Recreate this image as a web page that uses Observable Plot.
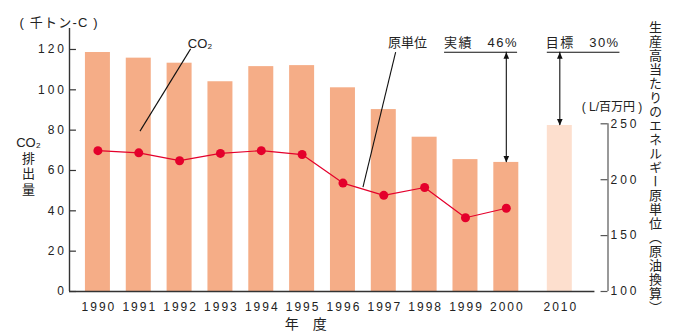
<!DOCTYPE html>
<html>
<head>
<meta charset="utf-8">
<script src="https://cdn.jsdelivr.net/npm/d3@7"></script>
<script src="https://cdn.jsdelivr.net/npm/@observablehq/plot@0.6"></script>
<style>
  html, body { margin: 0; padding: 0; background: #fff; }
  #chart svg { display: block; }
</style>
</head>
<body>
<div id="chart"></div>
<script>
// CO2 emissions (thousand t-C) by fiscal year, with the 2010 target
const years = [1990, 1991, 1992, 1993, 1994, 1995, 1996, 1997, 1998, 1999, 2000, 2010];
const co2 = [118.5, 115.7, 113.2, 104.0, 111.5, 112.0, 101.0, 90.2, 76.5, 65.4, 64.0, 82.3];

// Energy intensity per production (L crude-oil equivalent / million yen)
const unitYears = [1990, 1991, 1992, 1993, 1994, 1995, 1996, 1997, 1998, 1999, 2000];
const unitValues = [226, 224, 217, 223.5, 226, 222.5, 197, 186, 193, 166, 174.5];

// Axis ticks
const leftTicks = [0, 20, 40, 60, 80, 100, 120];
const rightTicks = [100, 150, 200, 250];

// Annotation labels
const co2Label = "CO₂";
const unitLabel = "原単位";
const actualLabel = "実績　46%";
const targetLabel = "目標　30%";
const leftTitle = "( 千トン-C )";
const leftName = "CO₂\n排\n出\n量";
const rightUnit = "( L/百万円 )";
const rightName = "生産高当たりのエネルギー原単位（原油換算）";
const xName = "年　度";

// Layout helpers: 2010 sits after a wider gap than the yearly bars
const slotOf = y => (y <= 2000 ? y - 1990 : 11.31);
const xMin = -0.696, xMax = 12.49, yMax = 130.4;
const baseEnd = 12.17;
const half = 0.306;         // half bar width in slot units
const tickLen = 0.17;       // tick length in slot units
// right axis (100–250) mapped onto the left axis units
const rightToLeft = v => (v - 100) * 0.5543;

const bars = years.map((y, i) => ({year: y, slot: slotOf(y), value: co2[i]}));
const actualBars = bars.filter(d => d.year <= 2000);
const targetBars = bars.filter(d => d.year === 2010);
const units = unitYears.map((y, i) => ({slot: slotOf(y), value: rightToLeft(unitValues[i])}));

const last = bars.find(d => d.year === 2000);
const goal = bars.find(d => d.year === 2010);
const noteY = 118.65;   // height of the label underlines

// filled arrowheads with the tip at the anchor point
const headUp = {draw(c) { c.moveTo(0, 0); c.lineTo(2.8, 6.5); c.lineTo(-2.8, 6.5); c.closePath(); }};
const headDown = {draw(c) { c.moveTo(0, 0); c.lineTo(2.8, -6.5); c.lineTo(-2.8, -6.5); c.closePath(); }};

const ink = "#222";
const red = "#E4002B";

const plot = Plot.plot({
  width: 675,
  height: 333,
  marginLeft: 69,
  marginRight: 67.5,
  marginTop: 28,
  marginBottom: 42,
  x: {type: "linear", domain: [xMin, xMax], axis: null},
  y: {domain: [0, yMax], axis: null},
  style: {
    fontFamily: "'Liberation Sans', Arial, 'Noto Sans CJK JP', sans-serif",
    fontSize: "12px",
    color: ink,
    background: "#fff"
  },
  marks: [
    // bars
    Plot.rectY(actualBars, {x1: d => d.slot - half, x2: d => d.slot + half, y1: 0, y2: "value", fill: "#F5AD87"}),
    Plot.rectY(targetBars, {x1: d => d.slot - half, x2: d => d.slot + half, y1: 0, y2: "value", fill: "#FDDFCE"}),

    // axes lines
    Plot.ruleY([0], {x1: xMin, x2: baseEnd, stroke: "#333", strokeWidth: 1.4}),
    Plot.ruleX([xMin], {y1: 0, y2: yMax, stroke: "#333", strokeWidth: 1.4}),
    Plot.ruleX([xMax], {y1: 0, y2: rightToLeft(250), stroke: "#555", strokeWidth: 1.2}),

    // left ticks (pointing inward) and labels
    Plot.ruleY(leftTicks, {y: d => d, x1: xMin, x2: xMin + tickLen, stroke: "#333", strokeWidth: 1.2}),
    Plot.text(leftTicks, {x: xMin, y: d => d, text: d => `${d}`, textAnchor: "end", dx: -2.5, fontSize: 12, fill: ink}),

    // right ticks and labels
    Plot.ruleY(rightTicks, {y: d => rightToLeft(d), x1: xMax - tickLen, x2: xMax, stroke: "#555", strokeWidth: 1.2}),
    Plot.text(rightTicks, {x: xMax, y: d => rightToLeft(d), text: d => `${d}`, textAnchor: "start", dx: 2.5, fontSize: 12, fill: ink}),

    // year labels
    Plot.text(bars, {x: "slot", y: 0, text: d => `${d.year}`, dy: 15.5, dx: 1, fontSize: 12, fill: ink}),

    // energy intensity line
    Plot.line(units, {x: "slot", y: "value", stroke: red, strokeWidth: 1.2}),
    Plot.dot(units, {x: "slot", y: "value", r: 4.5, fill: red}),

    // CO2 leader
    Plot.link([0], {x1: slotOf(1991) + 0.03, y1: 79.5, x2: slotOf(1992) + 0.27, y2: 120.3, stroke: "#111", strokeWidth: 1.1}),
    Plot.text([co2Label], {x: slotOf(1992) + 0.5, y: 122.8, text: d => d, fontSize: 13, fill: ink}),

    // intensity leader
    Plot.link([0], {x1: slotOf(1996) + 0.49, y1: 51.7, x2: slotOf(1997) + 0.29, y2: noteY, stroke: "#111", strokeWidth: 1.1}),
    Plot.text([unitLabel], {x: slotOf(1997) + 0.58, y: 123.1, text: d => d, fontSize: 13, fill: ink}),

    // actual reduction note
    Plot.text([actualLabel], {x: last.slot - 0.617, y: 123.1, text: d => d, fontSize: 13, fill: ink}),
    Plot.ruleY([noteY], {x1: last.slot - 1.512, x2: last.slot + 0.276, stroke: "#111", strokeWidth: 1.1}),
    Plot.ruleX([last.slot], {y1: last.value, y2: noteY, stroke: "#111", strokeWidth: 1.1}),
    Plot.dot([last], {x: "slot", y: noteY, symbol: headUp, fill: "#111", stroke: null}),
    Plot.dot([last], {x: "slot", y: "value", symbol: headDown, fill: "#111", stroke: null}),

    // target note
    Plot.text([targetLabel], {x: goal.slot + 0.56, y: 123.1, text: d => d, fontSize: 13, fill: ink}),
    Plot.ruleY([noteY], {x1: goal.slot - 0.306, x2: goal.slot + 1.472, stroke: "#111", strokeWidth: 1.1}),
    Plot.ruleX([goal.slot], {y1: goal.value, y2: noteY, stroke: "#111", strokeWidth: 1.1}),
    Plot.dot([goal], {x: "slot", y: noteY, symbol: headUp, fill: "#111", stroke: null}),
    Plot.dot([goal], {x: "slot", y: "value", symbol: headDown, fill: "#111", stroke: null}),

    // axis titles
    Plot.text([leftTitle], {frameAnchor: "top-left", text: d => d, textAnchor: "start", dx: -50, dy: -10.3, fontSize: 13, fill: ink}),
    Plot.text([leftName], {frameAnchor: "left", text: d => d, textAnchor: "middle", dx: -41, dy: 5.5, fontSize: 13, lineHeight: 1.19, fill: ink}),
    Plot.text([rightUnit], {frameAnchor: "top-right", text: d => d, textAnchor: "middle", dx: 4, dy: 73.7, fontSize: 12, fill: ink}),
    Plot.text([rightName], {frameAnchor: "right", text: d => d, textAnchor: "middle", dx: 47.5, dy: 3.5, fontSize: 13, fill: ink, fontFamily: "'Noto Sans CJK JP', sans-serif"}),
    Plot.text([xName], {frameAnchor: "bottom", text: d => d, textAnchor: "middle", dx: -33, dy: 37, fontSize: 14, fill: ink, fontFamily: "'Noto Sans CJK JP', sans-serif"})
  ]
});

// letter spacing for the numeric tick labels and notes; vertical right title
d3.select(plot).selectAll("text").each(function () {
  const t = this.textContent;
  const s = d3.select(this);
  if (/^\d{4}$/.test(t)) s.attr("letter-spacing", 2);
  else if (/^\d{1,3}$/.test(t)) s.attr("letter-spacing", 3);
  else if (/%$/.test(t)) s.attr("letter-spacing", 1.5);
  else if (t === leftTitle) s.attr("letter-spacing", 1.2);
  else if (t === rightName) {
    s.attr("dy", null)
      .attr("letter-spacing", 1)
      .style("writing-mode", "vertical-rl")
      .style("text-orientation", "mixed");
  }
});

document.getElementById("chart").appendChild(plot);
</script>
</body>
</html>
